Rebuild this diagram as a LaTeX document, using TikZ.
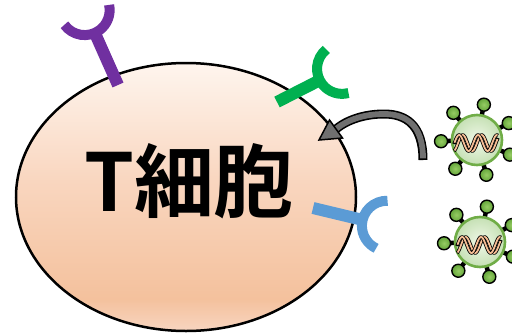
\documentclass[tikz,border=0pt]{standalone}
\usepackage{fontspec}
\usetikzlibrary{shapes.geometric}
\newfontfamily\cjkfont{Noto Sans CJK JP Bold}

\definecolor{celltop}{RGB}{254,245,238}
\definecolor{cellmid}{RGB}{249,214,191}
\definecolor{celldeep}{RGB}{244,193,157}
\definecolor{cellbot}{RGB}{248,213,192}
\definecolor{recpurple}{RGB}{112,48,160}
\definecolor{recgreen}{RGB}{0,176,80}
\definecolor{recblue}{RGB}{91,155,213}
\definecolor{arrowgray}{RGB}{112,112,112}
\definecolor{virusedge}{RGB}{112,173,71}
\definecolor{virusin}{RGB}{240,248,232}
\definecolor{virusout}{RGB}{197,224,180}
\definecolor{ballin}{RGB}{150,204,100}
\definecolor{ballout}{RGB}{100,165,58}
\definecolor{strand}{RGB}{246,190,150}

\pgfdeclareverticalshading{cellgrad}{100bp}{%
  color(0bp)=(cellbot); color(25bp)=(cellbot); color(31bp)=(celldeep);
  color(53bp)=(cellmid); color(75bp)=(celltop); color(100bp)=(celltop)}

\tikzset{
  % Y-shaped receptor: stem along +x, cup at the far end
  pics/receptor/.style={code={
    \draw[line width=12pt] (0,0) -- (#1+4,0);
    \draw[line width=10pt] (#1+25,0) ++(102:25) arc[start angle=102,end angle=258,radius=25];
  }},
  % virus particle with spikes and a helix inside
  pics/virus/.style={code={
    \foreach \a in {28,79,131,182,233,285,336} {
      \draw[line width=4.5pt,black] (0,0) -- (\a:36);
      \shadedraw[inner color=ballin,outer color=ballout,draw=black,line width=1.4pt] (\a:36) circle (6.5);
    }
    \shadedraw[inner color=virusin,outer color=virusout,draw=virusedge,line width=2.6pt] (0,0) circle (25);
    \foreach \ph in {0,70} {
      \draw[black,line width=3.4pt] plot[domain=-23:21,samples=70,smooth] (\x,{-3+8*sin(\x*19+\ph)});
      \draw[strand,line width=1.8pt] plot[domain=-22.5:20.5,samples=70,smooth] (\x,{-3+8*sin(\x*19+\ph)});
    }
  }},
  arrowline/.style={line width=#1,line cap=butt}
}

\begin{document}
\begin{tikzpicture}[x=1pt,y=1pt]
\useasboundingbox (0,0) rectangle (512,-333);

% the cell
\node[ellipse,draw=black,line width=2.5pt,shade,shading=cellgrad,
      minimum width=340pt,minimum height=268pt,inner sep=0pt] (cell) at (186,-197) {};
\node[font=\cjkfont\fontsize{80}{80}\selectfont,inner sep=0pt] (label) at (189,-181) {T細胞};

% receptors on the membrane
\pic[rotate=114,color=recpurple] (rp) at (118,-85) {receptor=57};
\pic[rotate=27,color=recgreen] (rg) at (277,-102) {receptor=48};
\pic[rotate=-13.5,color=recblue] (rb) at (313,-208) {receptor=51};

% viruses
\pic (v1) at (477,-140) {virus};
\pic (v2) at (480,-242) {virus};

% curved arrow from the virus towards the cell
\coordinate (atail) at (423,-160);
\coordinate (abase) at (336,-129);
\coordinate (atip) at (319,-140);
\coordinate (abarbA) at (342.5,-138);
\coordinate (abarbB) at (329.5,-120);
\draw[arrowline=9pt,black] (atail) .. controls (423,-125) and (406,-114) .. (384,-114)
  .. controls (364,-114) and (347,-120) .. (abase);
\draw[arrowline=5.8pt,arrowgray,shorten <=1.6pt] (atail) .. controls (423,-125) and (406,-114) .. (384,-114)
  .. controls (364,-114) and (347,-120) .. (abase);
\filldraw[fill=arrowgray,draw=black,line width=1.5pt,line join=miter] (abarbA) -- (atip) -- (abarbB) -- cycle;

\end{tikzpicture}
\end{document}
